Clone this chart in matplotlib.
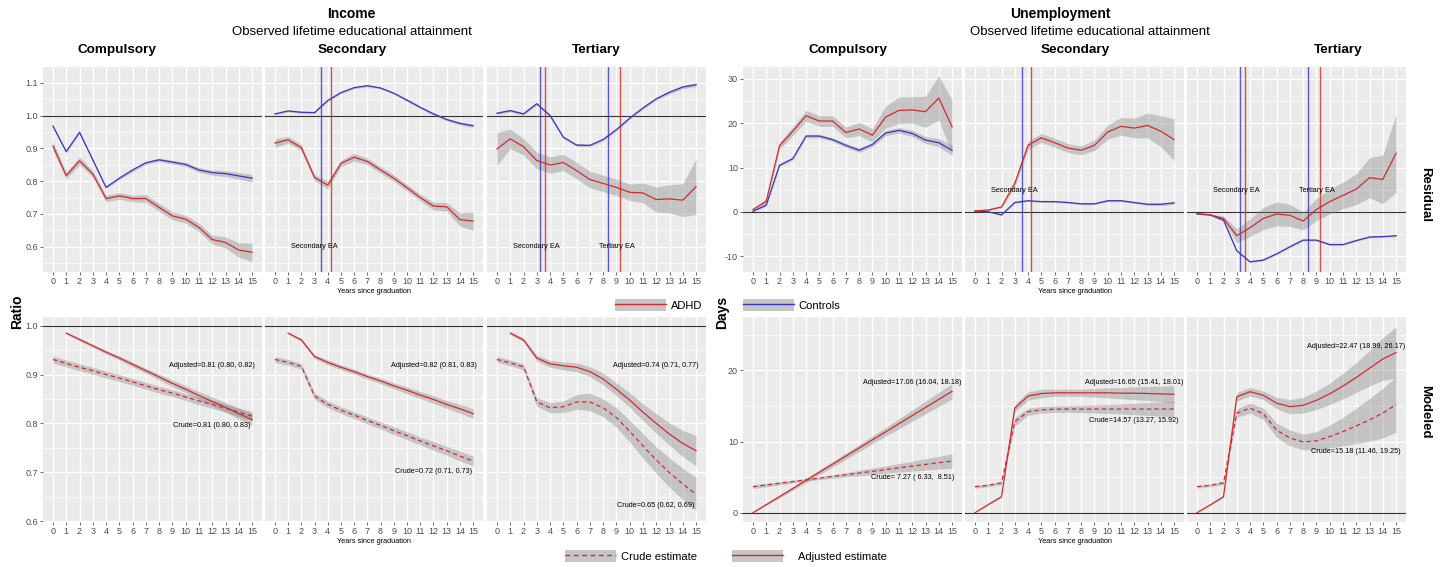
import numpy as np
import matplotlib
matplotlib.use("Agg")
import matplotlib.pyplot as plt
from matplotlib.patches import Patch
from matplotlib.lines import Line2D
from matplotlib.legend_handler import HandlerTuple
from matplotlib.ticker import FormatStrFormatter

plt.rcParams['font.family'] = ['Liberation Sans', 'DejaVu Sans']
plt.rcParams['axes.unicode_minus'] = False

years = np.arange(16)
nan = np.nan
groups = ["Compulsory", "Secondary", "Tertiary"]

# ---- Income, residual (ratio) ----
inc_res_adhd = [
    [0.907, 0.817, 0.862, 0.822, 0.747, 0.755, 0.747, 0.747, 0.720, 0.694, 0.684, 0.659, 0.622, 0.613, 0.590, 0.583],
    [0.916, 0.926, 0.902, 0.811, 0.788, 0.854, 0.873, 0.860, 0.834, 0.809, 0.780, 0.750, 0.724, 0.722, 0.683, 0.678],
    [0.898, 0.929, 0.905, 0.863, 0.849, 0.857, 0.832, 0.805, 0.793, 0.781, 0.766, 0.764, 0.744, 0.746, 0.742, 0.783],
]
inc_res_adhd_hw = [
    [0.015, 0.010, 0.012, 0.010, 0.010, 0.010, 0.010, 0.012, 0.012, 0.012, 0.012, 0.013, 0.013, 0.017, 0.022, 0.028],
    [0.013, 0.010, 0.010, 0.010, 0.012, 0.010, 0.012, 0.010, 0.010, 0.010, 0.010, 0.010, 0.012, 0.013, 0.020, 0.028],
    [0.050, 0.030, 0.025, 0.025, 0.025, 0.025, 0.025, 0.025, 0.025, 0.025, 0.025, 0.030, 0.038, 0.043, 0.050, 0.085],
]
inc_res_ctrl = [
    [0.968, 0.890, 0.949, 0.865, 0.781, 0.809, 0.834, 0.856, 0.865, 0.858, 0.851, 0.834, 0.826, 0.823, 0.816, 0.809],
    [1.005, 1.014, 1.010, 1.009, 1.046, 1.070, 1.085, 1.091, 1.084, 1.068, 1.047, 1.025, 1.005, 0.988, 0.976, 0.969],
    [1.007, 1.015, 1.005, 1.036, 1.000, 0.934, 0.910, 0.909, 0.927, 0.957, 0.992, 1.023, 1.051, 1.071, 1.087, 1.094],
]
inc_res_ctrl_hw = [
    [0.004, 0.004, 0.004, 0.004, 0.004, 0.004, 0.005, 0.005, 0.005, 0.006, 0.006, 0.007, 0.008, 0.009, 0.010, 0.012],
    [0.003, 0.003, 0.003, 0.003, 0.003, 0.003, 0.003, 0.003, 0.003, 0.003, 0.004, 0.004, 0.004, 0.004, 0.005, 0.005],
    [0.004, 0.004, 0.004, 0.004, 0.004, 0.004, 0.004, 0.004, 0.004, 0.004, 0.004, 0.004, 0.004, 0.005, 0.005, 0.006],
]

# ---- Unemployment, residual (days) ----
une_res_adhd = [
    [0.5, 2.4, 14.9, 18.2, 21.7, 20.5, 20.5, 17.9, 18.7, 17.3, 21.4, 22.9, 23.0, 22.6, 25.7, 19.2],
    [0.2, 0.4, 1.1, 6.4, 15.0, 16.7, 15.6, 14.4, 13.9, 15.0, 18.0, 19.3, 18.9, 19.5, 18.2, 16.3],
    [-0.45, -0.7, -1.5, -5.4, -3.6, -1.5, -0.5, -0.8, -2.1, 0.5, 2.3, 3.7, 5.1, 7.7, 7.3, 13.2],
]
une_res_adhd_hw = [
    [0.3, 0.5, 0.8, 1.0, 1.2, 1.2, 1.2, 1.2, 1.5, 1.5, 2.5, 3.0, 3.0, 3.5, 5.0, 6.0],
    [0.1, 0.2, 0.3, 0.7, 1.0, 1.0, 1.0, 1.0, 1.0, 1.2, 1.6, 2.0, 2.2, 2.8, 3.5, 4.7],
    [0.1, 0.2, 0.5, 1.6, 2.0, 2.5, 2.7, 2.5, 2.0, 2.5, 2.8, 3.0, 3.5, 4.5, 5.5, 8.8],
]
une_res_ctrl = [
    [0.1, 1.5, 10.5, 12.0, 17.1, 17.1, 16.3, 15.0, 13.9, 15.2, 17.8, 18.4, 17.7, 16.2, 15.6, 13.9],
    [0.15, 0.0, -0.7, 2.1, 2.5, 2.3, 2.3, 2.1, 1.8, 1.8, 2.5, 2.5, 2.1, 1.7, 1.7, 2.0],
    [-0.45, -0.7, -1.9, -8.8, -11.3, -10.9, -9.5, -7.9, -6.4, -6.4, -7.4, -7.4, -6.5, -5.7, -5.6, -5.4],
]
une_res_ctrl_hw = [
    [0.1, 0.2, 0.3, 0.3, 0.4, 0.4, 0.4, 0.5, 0.5, 0.5, 0.6, 0.6, 0.7, 0.8, 0.9, 1.2],
    [0.1, 0.1, 0.15, 0.2, 0.2, 0.2, 0.2, 0.2, 0.2, 0.2, 0.25, 0.25, 0.25, 0.25, 0.3, 0.35],
    [0.1, 0.1, 0.15, 0.2, 0.2, 0.2, 0.2, 0.2, 0.2, 0.2, 0.2, 0.2, 0.2, 0.2, 0.2, 0.25],
]

# ---- Income, modeled ----
inc_mod_adj = [
    [nan, 0.985, 0.972, 0.959, 0.946, 0.934, 0.921, 0.908, 0.895, 0.882, 0.870, 0.857, 0.845, 0.833, 0.820, 0.808],
    [nan, 0.985, 0.971, 0.937, 0.925, 0.915, 0.906, 0.896, 0.887, 0.877, 0.868, 0.858, 0.849, 0.839, 0.830, 0.820],
    [nan, 0.985, 0.971, 0.934, 0.922, 0.918, 0.915, 0.906, 0.891, 0.870, 0.848, 0.823, 0.800, 0.778, 0.759, 0.744],
]
inc_mod_adj_hw = [
    [nan, 0.002, 0.003, 0.003, 0.004, 0.004, 0.005, 0.005, 0.006, 0.007, 0.007, 0.008, 0.009, 0.010, 0.011, 0.012],
    [nan, 0.002, 0.003, 0.004, 0.005, 0.005, 0.005, 0.005, 0.006, 0.006, 0.007, 0.007, 0.008, 0.008, 0.009, 0.010],
    [nan, 0.003, 0.004, 0.006, 0.007, 0.008, 0.009, 0.010, 0.012, 0.013, 0.015, 0.017, 0.020, 0.023, 0.027, 0.031],
]
inc_mod_crude = [
    [0.931, 0.923, 0.915, 0.908, 0.900, 0.893, 0.885, 0.877, 0.869, 0.862, 0.854, 0.846, 0.839, 0.831, 0.823, 0.815],
    [0.931, 0.925, 0.917, 0.856, 0.839, 0.827, 0.817, 0.806, 0.796, 0.785, 0.775, 0.764, 0.754, 0.744, 0.733, 0.723],
    [0.931, 0.924, 0.916, 0.844, 0.832, 0.834, 0.844, 0.844, 0.832, 0.812, 0.784, 0.754, 0.725, 0.699, 0.676, 0.655],
]
inc_mod_crude_hw = [
    [0.007, 0.007, 0.007, 0.007, 0.007, 0.007, 0.007, 0.007, 0.007, 0.007, 0.007, 0.008, 0.008, 0.008, 0.009, 0.009],
    [0.006, 0.006, 0.006, 0.007, 0.007, 0.007, 0.007, 0.007, 0.007, 0.008, 0.008, 0.008, 0.009, 0.009, 0.010, 0.010],
    [0.006, 0.006, 0.006, 0.009, 0.010, 0.012, 0.015, 0.018, 0.018, 0.020, 0.022, 0.025, 0.027, 0.030, 0.032, 0.034],
]

# ---- Unemployment, modeled ----
une_mod_adj = [
    [0.0, 1.14, 2.27, 3.41, 4.55, 5.69, 6.82, 7.96, 9.10, 10.24, 11.37, 12.51, 13.65, 14.79, 15.92, 17.06],
    [0.0, 1.15, 2.25, 14.7, 16.4, 16.75, 16.85, 16.85, 16.85, 16.85, 16.85, 16.8, 16.8, 16.75, 16.7, 16.65],
    [0.0, 1.1, 2.25, 16.3, 17.0, 16.5, 15.4, 14.9, 15.1, 15.8, 16.7, 17.8, 19.0, 20.3, 21.6, 22.5],
]
une_mod_adj_hw = [
    [0.0, 0.1, 0.2, 0.25, 0.3, 0.35, 0.4, 0.45, 0.5, 0.55, 0.6, 0.7, 0.8, 0.9, 1.0, 1.07],
    [0.0, 0.05, 0.1, 0.5, 0.6, 0.6, 0.5, 0.5, 0.5, 0.6, 0.7, 0.8, 0.9, 1.0, 1.1, 1.2],
    [0.0, 0.05, 0.1, 0.6, 0.6, 0.6, 0.8, 1.0, 1.1, 1.3, 1.5, 1.8, 2.1, 2.5, 3.0, 3.6],
]
une_mod_crude = [
    [3.66, 3.90, 4.14, 4.38, 4.62, 4.86, 5.10, 5.34, 5.58, 5.82, 6.06, 6.31, 6.55, 6.79, 7.03, 7.27],
    [3.66, 3.85, 4.2, 12.8, 14.2, 14.45, 14.55, 14.57, 14.57, 14.57, 14.57, 14.57, 14.57, 14.57, 14.57, 14.57],
    [3.66, 3.85, 4.2, 14.0, 14.7, 13.9, 11.6, 10.5, 9.95, 10.1, 10.7, 11.4, 12.2, 13.05, 14.0, 15.2],
]
une_mod_crude_hw = [
    [0.25, 0.25, 0.22, 0.2, 0.2, 0.2, 0.25, 0.3, 0.4, 0.45, 0.5, 0.6, 0.7, 0.8, 0.9, 1.0],
    [0.2, 0.2, 0.25, 0.6, 0.5, 0.45, 0.45, 0.45, 0.5, 0.55, 0.6, 0.7, 0.8, 0.9, 1.0, 1.1],
    [0.2, 0.2, 0.25, 0.6, 0.7, 0.8, 1.0, 1.1, 1.1, 1.3, 1.6, 2.0, 2.5, 3.0, 3.5, 3.9],
]

# educational attainment reference lines (panel index -> positions)
ea_ctrl = {1: [3.52], 2: [3.23, 8.35]}
ea_adhd = {1: [4.23], 2: [3.60, 9.27]}
ea_labels = {1: [(3.0, "Secondary EA")], 2: [(3.0, "Secondary EA"), (9.0, "Tertiary EA")]}

inc_adj_txt = ["Adjusted=0.81 (0.80, 0.82)", "Adjusted=0.82 (0.81, 0.83)", "Adjusted=0.74 (0.71, 0.77)"]
inc_crude_txt = ["Crude=0.81 (0.80, 0.83)", "Crude=0.72 (0.71, 0.73)", "Crude=0.65 (0.62, 0.69)"]
inc_adj_txt_y = [0.918, 0.918, 0.918]
inc_crude_txt_y = [0.795, 0.701, 0.631]
une_adj_txt = ["Adjusted=17.06 (16.04, 18.18)", "Adjusted=16.65 (15.41, 18.01)", "Adjusted=22.47 (18.99, 26.17)"]
une_crude_txt = ["Crude= 7.27 ( 6.33,  8.51)", "Crude=14.57 (13.27, 15.92)", "Crude=15.18 (11.46, 19.25)"]
une_adj_txt_y = [18.3, 18.35, 23.3]
une_crude_txt_y = [4.9, 12.96, 8.55]

RED = "#D42A2A"
BLUE = "#3636C4"
BG = "#EBEBEB"
BAND = "#808080"
BAND_A = 0.37

W, H = 1445, 567
fig = plt.figure(figsize=(W / 100, H / 100), dpi=100)


def add_panel(x0, x1, y0, y1):
    return fig.add_axes([x0 / W, 1 - y1 / H, (x1 - x0) / W, (y1 - y0) / H])


def style(ax, ylim, yticks, yminor, show_y, fmt):
    ax.set_facecolor(BG)
    ax.set_xlim(-0.75, 15.75)
    ax.set_ylim(*ylim)
    ax.set_xticks(years)
    ax.set_yticks(yticks)
    ax.set_yticks(yminor, minor=True)
    ax.yaxis.set_major_formatter(FormatStrFormatter(fmt))
    ax.grid(which='major', color='white', lw=0.9)
    ax.grid(which='minor', axis='y', color='white', lw=0.45)
    ax.set_axisbelow(True)
    for s in ax.spines.values():
        s.set_visible(False)
    ax.tick_params(which='minor', length=0)
    ax.tick_params(which='major', labelsize=6.5, colors='#4D4D4D', length=2.2, width=0.6, pad=1.5)
    if not show_y:
        ax.tick_params(axis='y', length=0, labelleft=False)


def band(ax, y, hw, **kw):
    y = np.array(y, dtype=float)
    hw = np.array(hw, dtype=float)
    ax.fill_between(years, y - hw, y + hw, color=BAND, alpha=BAND_A, lw=0)


inc_x = [(43, 262), (265, 483), (487, 706)]
une_x = [(743, 962), (965, 1184), (1187, 1406)]
top_y = (67, 272)
bot_y = (317, 522)

inc_top_lim, inc_bot_lim = (0.523, 1.148), (0.598, 1.018)
une_top_lim, une_bot_lim = (-13.6, 32.7), (-1.3, 27.5)

for i in range(3):
    # residual panels
    for xs, lim, ticks, minor, fmt, adhd, adhd_hw, ctrl, ctrl_hw, ref, lab_y in [
        (inc_x[i], inc_top_lim, [0.6, 0.7, 0.8, 0.9, 1.0, 1.1], [0.55, 0.65, 0.75, 0.85, 0.95, 1.05],
         '%.1f', inc_res_adhd, inc_res_adhd_hw, inc_res_ctrl, inc_res_ctrl_hw, 1.0, 0.6),
        (une_x[i], une_top_lim, [-10, 0, 10, 20, 30], [-5, 5, 15, 25],
         '%d', une_res_adhd, une_res_adhd_hw, une_res_ctrl, une_res_ctrl_hw, 0.0, 4.9),
    ]:
        ax = add_panel(xs[0], xs[1], *top_y)
        style(ax, lim, ticks, minor, i == 0, fmt)
        ax.axhline(ref, color='#333333', lw=0.8, zorder=1)
        band(ax, adhd[i], adhd_hw[i])
        band(ax, ctrl[i], ctrl_hw[i])
        for v in ea_ctrl.get(i, []):
            ax.axvline(v, color=BLUE, lw=1.0, alpha=0.8)
        for v in ea_adhd.get(i, []):
            ax.axvline(v, color=RED, lw=1.0, alpha=0.8)
        ax.plot(years, ctrl[i], color=BLUE, lw=0.9)
        ax.plot(years, adhd[i], color=RED, lw=0.9)
        for xl, t in ea_labels.get(i, []):
            ax.text(xl, lab_y, t, fontsize=5.3, ha='center', va='center')
        if i == 1:
            ax.set_xlabel("Years since graduation", fontsize=5.3, labelpad=1)

    # modeled panels
    for xs, lim, ticks, minor, fmt, adj, adj_hw, cru, cru_hw, ref, at, ay, ct, cy in [
        (inc_x[i], inc_bot_lim, [0.6, 0.7, 0.8, 0.9, 1.0], [0.65, 0.75, 0.85, 0.95],
         '%.1f', inc_mod_adj, inc_mod_adj_hw, inc_mod_crude, inc_mod_crude_hw, 1.0,
         inc_adj_txt, inc_adj_txt_y, inc_crude_txt, inc_crude_txt_y),
        (une_x[i], une_bot_lim, [0, 10, 20], [5, 15, 25],
         '%d', une_mod_adj, une_mod_adj_hw, une_mod_crude, une_mod_crude_hw, 0.0,
         une_adj_txt, une_adj_txt_y, une_crude_txt, une_crude_txt_y),
    ]:
        ax = add_panel(xs[0], xs[1], *bot_y)
        style(ax, lim, ticks, minor, i == 0, fmt)
        ax.axhline(ref, color='#333333', lw=0.8, zorder=1)
        band(ax, cru[i], cru_hw[i])
        band(ax, adj[i], adj_hw[i])
        ax.plot(years, cru[i], color=RED, lw=0.9, ls=(0, (3.5, 2.5)))
        ax.plot(years, adj[i], color=RED, lw=0.9)
        ax.text(12, ay[i], at[i], fontsize=5.2, ha='center', va='center')
        ax.text(12, cy[i], ct[i], fontsize=5.2, ha='center', va='center')
        if i == 1:
            ax.set_xlabel("Years since graduation", fontsize=5.3, labelpad=1)


def ftext(px, py, s, **kw):
    fig.text(px / W, 1 - py / H, s, ha='center', va='center', **kw)


ftext(351, 14, "Income", fontsize=10, fontweight='bold')
ftext(352, 32, "Observed lifetime educational attainment", fontsize=9.5)
ftext(1060, 14, "Unemployment", fontsize=10, fontweight='bold')
ftext(1090, 32, "Observed lifetime educational attainment", fontsize=9.5)
for px, g in zip([117, 352, 596], groups):
    ftext(px, 50, g, fontsize=9.7, fontweight='bold')
for px, g in zip([848, 1075, 1338], groups):
    ftext(px, 50, g, fontsize=9.7, fontweight='bold')
ftext(17, 312, "Ratio", fontsize=10, fontweight='bold', rotation=90)
ftext(722, 312, "Days", fontsize=10, fontweight='bold', rotation=90)
ftext(1425, 195, "Residual", fontsize=9.5, fontweight='bold', rotation=270)
ftext(1425, 412, "Modeled", fontsize=9.5, fontweight='bold', rotation=270)

key_patch = dict(facecolor='#C6C6C6', edgecolor='none')
legend_items = [
    (615, 305, RED, '-', "ADHD"),
    (743, 305, BLUE, '-', "Controls"),
    (565, 556, RED, (0, (3.5, 2.5)), "Crude estimate"),
    (732, 556, RED, '-', "Adjusted estimate"),
]
for px, py, col, ls, lab in legend_items:
    h = (Patch(**key_patch), Line2D([], [], color=col, lw=1.0, ls=ls))
    gap = 1.3 if lab == "Adjusted estimate" else 0.4
    fig.legend([h], [lab], handler_map={tuple: HandlerTuple(ndivide=1, pad=0)},
               loc='center left', bbox_to_anchor=(px / W, 1 - py / H),
               frameon=False, fontsize=8, handlelength=4.6, handleheight=1.2,
               borderpad=0, borderaxespad=0, handletextpad=gap)

fig.savefig("out.png", dpi=100)
